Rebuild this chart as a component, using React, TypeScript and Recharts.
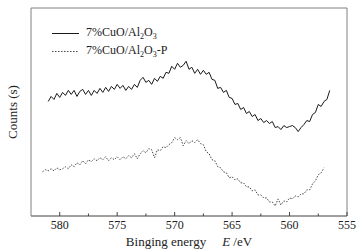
import React from 'react';
import { LineChart, Line, XAxis, YAxis, ReferenceArea } from 'recharts';

const energies = [
  581.5, 581.25, 581.0, 580.75, 580.5, 580.25, 580.0, 579.75, 579.5, 579.25,
  579.0, 578.75, 578.5, 578.25, 578.0, 577.75, 577.5, 577.25, 577.0, 576.75,
  576.5, 576.25, 576.0, 575.75, 575.5, 575.25, 575.0, 574.75, 574.5, 574.25,
  574.0, 573.75, 573.5, 573.25, 573.0, 572.75, 572.5, 572.25, 572.0, 571.75,
  571.5, 571.25, 571.0, 570.75, 570.5, 570.25, 570.0, 569.75, 569.5, 569.25,
  569.0, 568.75, 568.5, 568.25, 568.0, 567.75, 567.5, 567.25, 567.0, 566.75,
  566.5, 566.25, 566.0, 565.75, 565.5, 565.25, 565.0, 564.75, 564.5, 564.25,
  564.0, 563.75, 563.5, 563.25, 563.0, 562.75, 562.5, 562.25, 562.0, 561.75,
  561.5, 561.25, 561.0, 560.75, 560.5, 560.25, 560.0, 559.75, 559.5, 559.25,
  559.0, 558.75, 558.5, 558.25, 558.0, 557.75, 557.5, 557.25, 557.0, 556.75,
  556.5,
];

// 7%CuO/Al2O3 (solid)
const solidCounts: (number | null)[] = [
  null, null,
  114,
  119, 116, 122, 118,
  123, 120, 125, 121,
  125, 119, 124, 126,
  121, 125, 120, 125,
  122, 127, 123, 128,
  124, 129, 126, 131,
  127, 130, 125, 129,
  126, 131, 128, 135,
  138, 133, 135, 131,
  137, 134, 139, 137,
  143, 142, 149, 146,
  152, 148, 150, 154,
  146, 148, 142, 146,
  141, 145, 141, 143,
  136, 135, 127, 128,
  123, 125, 118, 117,
  111, 112, 106, 108,
  102, 104, 99, 101,
  95, 97, 93, 95,
  92, 94, 88, 89,
  86, 90, 88, 89,
  90, 88, 84, 88,
  91, 95, 94, 101,
  103, 111, 109, 114,
  116, 125,
];

// 7%CuO/Al2O3-P (dotted)
const dottedCounts: (number | null)[] = [
  44, 46,
  45,
  47, 45, 48, 46,
  47, 49, 47, 51,
  49, 53, 51, 55,
  52, 56, 54, 57,
  55, 58, 56, 59,
  55, 58, 56, 59,
  56, 59, 57, 60,
  58, 62, 57, 62,
  65, 63, 67, 66,
  58, 66, 65, 69,
  68, 71, 73, 78,
  76, 78, 70, 75,
  72, 75, 73, 76,
  72, 71, 64, 62,
  56, 55, 49, 48,
  44, 43, 38, 39,
  36, 37, 33, 33,
  29, 29, 25, 26,
  21, 21, 18, 18,
  14, 14, 10, 17,
  11, 15, 14, 18,
  17, 20, 19, 22,
  22, 26, 26, 32,
  35, 41, 43, 48,
  null, null,
];

const xTicks = [580, 577.5, 575, 572.5, 570, 567.5, 565, 562.5, 560, 557.5, 555];
const seriesNames = ['7%CuO/Al2O3', '7%CuO/Al2O3-P'];

const data = energies.map((e, i) => ({ e, solid: solidCounts[i], dotted: dottedCounts[i] }));

const FONT = 'Liberation Serif, Times New Roman, serif';

const renderTick = (props: any) => {
  const { x, y, payload } = props;
  const major = payload.value % 5 === 0;
  return (
    <g>
      <line x1={x} x2={x} y1={y} y2={y - (major ? 4 : 2.5)} stroke="#444" strokeWidth={1} />
      {major && (
        <text x={x} y={y + 13} textAnchor="middle" style={{ fontFamily: FONT, fontSize: 12 }} fill="#222">
          {payload.value}
        </text>
      )}
    </g>
  );
};

const Formula = ({ suffix }: { suffix?: string }) => {
  const sub: React.CSSProperties = { fontSize: 8, position: 'relative', top: 3, verticalAlign: 'baseline' };
  return (
    <span>
      7%CuO/Al<span style={sub}>2</span>O<span style={sub}>3</span>
      {suffix}
    </span>
  );
};

const LegendBox = () => (
  <div
    style={{
      position: 'absolute',
      top: 24,
      left: 52,
      fontFamily: FONT,
      fontSize: 12,
      color: '#222',
      pointerEvents: 'none',
    }}
  >
    {seriesNames.map((n, i) => (
      <div key={n} style={{ display: 'flex', alignItems: 'center', height: 18, lineHeight: '18px', whiteSpace: 'nowrap' }}>
        <svg width={28} height={18} style={{ marginRight: 6, display: 'block' }}>
          <line
            x1={0}
            x2={27}
            y1={9.5}
            y2={9.5}
            stroke={i === 0 ? '#1a1a1a' : '#444'}
            strokeWidth={1}
            strokeDasharray={i === 0 ? undefined : '1.5 1.5'}
          />
        </svg>
        <Formula suffix={i === 0 ? undefined : '-P'} />
      </div>
    ))}
  </div>
);

const YLabel = (props: any) => {
  const vb = props.viewBox || { x: 0, y: 8, width: 31, height: 208 };
  const cx = vb.x + 12;
  const cy = vb.y + vb.height / 2;
  return (
    <text
      x={cx}
      y={cy}
      transform={`rotate(-90 ${cx} ${cy})`}
      textAnchor="middle"
      dominantBaseline="central"
      style={{ fontFamily: FONT, fontSize: 13 }}
      fill="#222"
    >
      Counts (s)
    </text>
  );
};

const XLabel = (props: any) => {
  const vb = props.viewBox || { x: 31, y: 216, width: 316, height: 20 };
  const cx = vb.x + vb.width / 2;
  return (
    <text x={cx} y={vb.y + 30} textAnchor="middle" style={{ fontFamily: FONT, fontSize: 13 }} fill="#222">
      <tspan>Binging energy</tspan>
      <tspan dx={16} fontStyle="italic">E</tspan>
      <tspan> /eV</tspan>
    </text>
  );
};

export default function App() {
  return (
    <div style={{ position: 'absolute', left: 0, top: 0, width: 360, height: 252, background: '#fff' }}>
      <LineChart width={360} height={252} data={data} margin={{ top: 8, right: 13, left: 0, bottom: 16 }}>
        <XAxis
          dataKey="e"
          type="number"
          domain={[555, 582.5]}
          reversed
          ticks={xTicks}
          interval={0}
          allowDataOverflow
          height={20}
          tickSize={0}
          tickMargin={0}
          tickLine={false}
          axisLine={{ stroke: '#808080' }}
          tick={renderTick}
          label={<XLabel />}
        />
        <YAxis
          type="number"
          domain={[0, 207]}
          width={31}
          tick={false}
          tickLine={false}
          axisLine={false}
          allowDataOverflow
          label={<YLabel />}
        />
        <ReferenceArea x1={582.5} x2={555} y1={0} y2={207} fill="none" stroke="#808080" strokeWidth={1} ifOverflow="visible" />
        <Line
          dataKey="solid"
          name={seriesNames[0]}
          stroke="#1a1a1a"
          strokeWidth={1}
          dot={false}
          isAnimationActive={false}
        />
        <Line
          dataKey="dotted"
          name={seriesNames[1]}
          stroke="#444"
          strokeWidth={1}
          strokeDasharray="1.5 1.5"
          dot={false}
          isAnimationActive={false}
        />
      </LineChart>
      <LegendBox />
    </div>
  );
}
